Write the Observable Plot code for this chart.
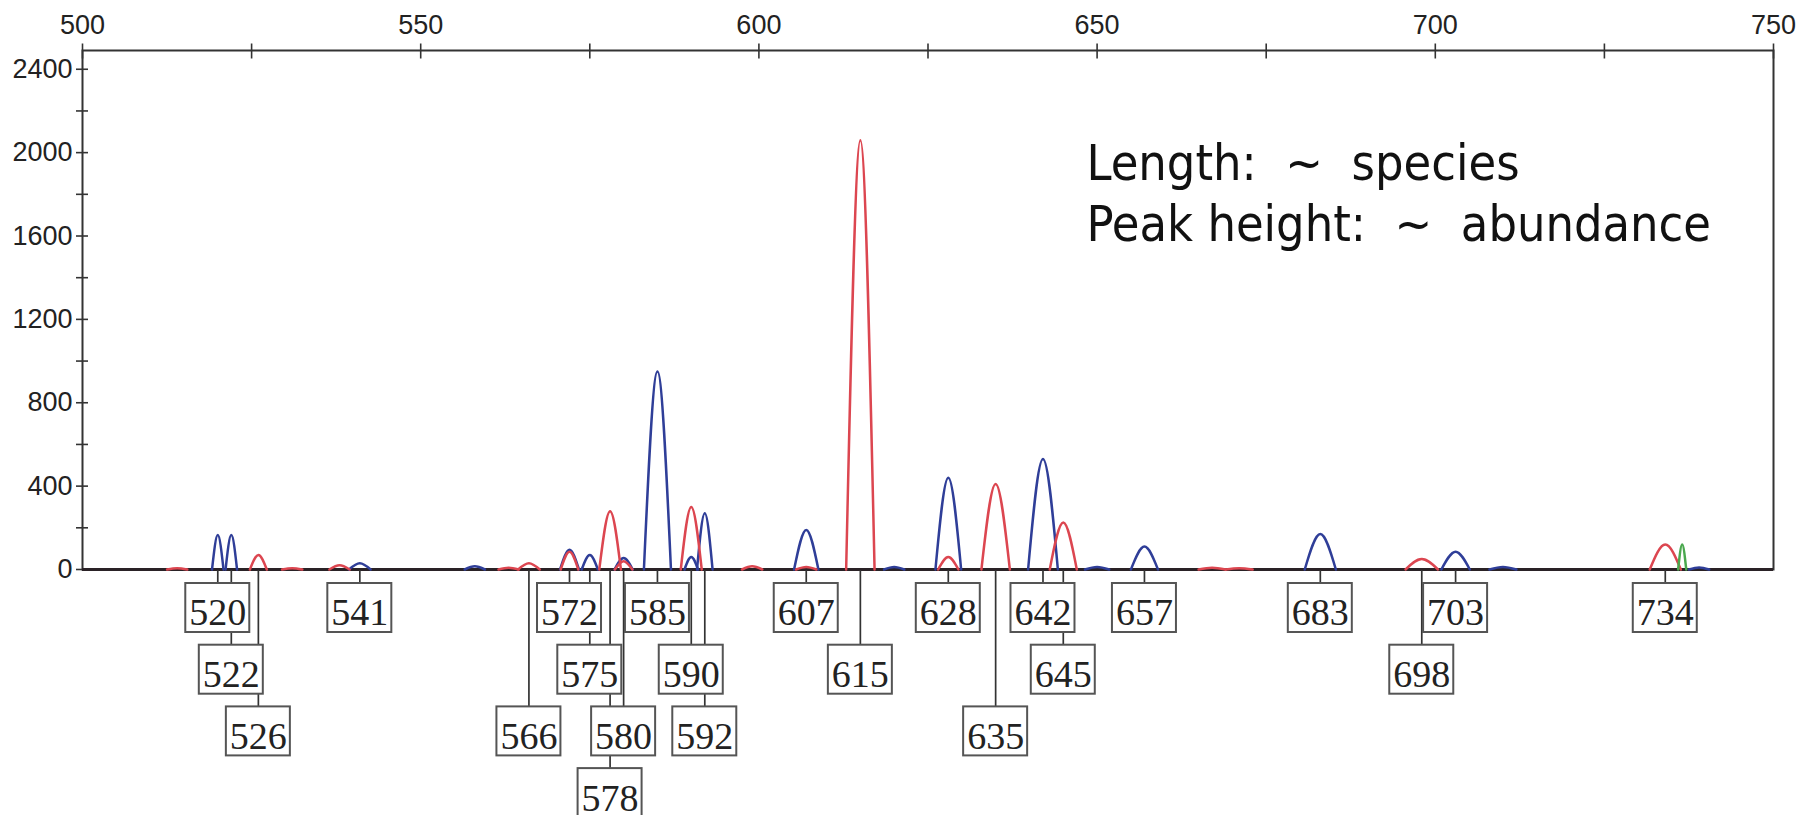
<!DOCTYPE html>
<html>
<head>
<meta charset="utf-8">
<script src="https://cdn.jsdelivr.net/npm/d3@7"></script>
<script src="https://cdn.jsdelivr.net/npm/@observablehq/plot@0.6"></script>
<style>
  html, body { margin: 0; padding: 0; background: #ffffff; overflow: hidden; }
  #chart svg { display: block; }
  g[aria-label="annotation"] text { font-stretch: condensed; }
</style>
</head>
<body>
<div id="chart"></div>
<script>
// Electropherogram peaks per dye: fragment size (bp), peak height (RFU), half base width (bp)
const blueSize   = [520, 522, 541, 558, 572, 575, 580, 585, 590, 592, 607, 620, 628, 642, 650, 657, 683, 703, 710, 739];
const blueHeight = [165, 165, 30, 15, 95, 70, 55, 950, 60, 270, 190, 12, 440, 530, 12, 110, 170, 85, 12, 10];
const blueSpread = [0.85, 0.85, 1.6, 1.5, 1.4, 1.2, 1.35, 2.0, 1.0, 1.15, 1.8, 1.5, 1.9, 2.2, 1.8, 2.0, 2.3, 2.1, 2.0, 1.5];

const redSize   = [514, 526, 531, 538, 563, 566, 572, 578, 580, 590, 599, 607, 615, 628, 635, 645, 667, 671, 698, 734];
const redHeight = [6, 70, 6, 20, 8, 30, 85, 280, 40, 300, 15, 12, 2060, 60, 410, 225, 8, 6, 50, 120];
const redSpread = [1.5, 1.25, 1.5, 1.5, 1.5, 1.6, 1.3, 1.6, 1.3, 1.55, 1.5, 1.5, 2.1, 1.5, 2.1, 2.0, 2.0, 2.0, 2.4, 2.3];

const greenSize   = [736.5];
const greenHeight = [120];
const greenSpread = [0.6];

// Called fragment sizes and the label tier each one is stacked in
const labelSize = [520, 522, 526, 541, 566, 572, 575, 578, 580, 585, 590, 592, 607, 615, 628, 635, 642, 645, 657, 683, 698, 703, 734];
const labelTier = [0, 1, 2, 0, 2, 0, 1, 3, 2, 0, 1, 2, 0, 1, 0, 2, 0, 1, 0, 0, 1, 0, 0];

// Axis ticks
const xTicks      = [500, 525, 550, 575, 600, 625, 650, 675, 700, 725, 750];
const xTickLabels = [500, 550, 600, 650, 700, 750];
const yTickLabels = [0, 400, 800, 1200, 1600, 2000, 2400];
const yMinorTicks = [200, 600, 1000, 1400, 1800, 2200];

const noteLines = ["Length:\u00a0\u00a0~\u00a0\u00a0species", "Peak height:\u00a0\u00a0~\u00a0\u00a0abundance"];

// ---- layout ----
const W = 1805, marginLeft = 82, marginRight = 32;
const bpDomain = [500, 750];
const pxPerBp = (W - marginLeft - marginRight) / (bpDomain[1] - bpDomain[0]);

// dye channels (names are not CSS colours, so the colour scale maps them)
const dyes = [
  {name: "blue dye",  color: "#2f3e98", size: blueSize,  height: blueHeight,  spread: blueSpread},
  {name: "red dye",   color: "#dc4650", size: redSize,   height: redHeight,   spread: redSpread},
  {name: "green dye", color: "#4aa84e", size: greenSize, height: greenHeight, spread: greenSpread}
];

const peaks = dyes.flatMap(d => d.size.map((s, i) => ({
  id: `${d.name}-${i}`, dye: d.name, size: s, height: d.height[i], spread: d.spread[i]
})));

// each peak: baseline → apex → baseline, smoothed by a monotone curve
const tracePoints = peaks.flatMap(p => [
  {id: p.id, dye: p.dye, bp: p.size - p.spread, rfu: 0},
  {id: p.id, dye: p.dye, bp: p.size,            rfu: p.height},
  {id: p.id, dye: p.dye, bp: p.size + p.spread, rfu: 0}
]);

const axisFont = "'Liberation Sans', Arial, Helvetica, sans-serif";

const trace = Plot.plot({
  width: W,
  height: 570,
  marginLeft, marginRight,
  marginTop: 50,
  marginBottom: 1,
  x: {domain: bpDomain},
  y: {domain: [0, 2490]},
  color: {type: "ordinal", domain: dyes.map(d => d.name), range: dyes.map(d => d.color)},
  style: {fontFamily: axisFont, fontSize: "27px", color: "#222", background: "transparent", overflow: "visible"},
  marks: [
    Plot.frame({stroke: "#333", strokeWidth: 2}),
    Plot.axisX({anchor: "top", ticks: xTicks, tickSize: 15, dy: 7.5, tickFormat: () => "", label: null, stroke: "#333", strokeWidth: 1.6}),
    Plot.axisX({anchor: "top", ticks: xTickLabels, tickSize: 0, tickPadding: 17, tickFormat: "d", label: null, fontSize: 27, fill: "#222"}),
    Plot.axisY({ticks: yMinorTicks, tickSize: 12, dx: 6, tickFormat: () => "", label: null, stroke: "#333", strokeWidth: 1.6}),
    Plot.axisY({ticks: yTickLabels, tickSize: 12, dx: 6, tickPadding: 4, tickFormat: "d", label: null, fontSize: 27, fill: "#222", stroke: "#333", strokeWidth: 1.6}),
    Plot.ruleY([0], {stroke: "#2a2226", strokeWidth: 2.8}),
    Plot.line(tracePoints, {x: "bp", y: "rfu", z: "id", stroke: "dye", strokeWidth: 2.5, curve: "monotone-x"}),
    Plot.text([noteLines.join("\n")], {
      frameAnchor: "top-left", dx: 1004, dy: 86.5,
      lineAnchor: "top", textAnchor: "start", lineHeight: 1.22,
      fontSize: 50, fontFamily: "'DejaVu Sans Condensed', 'DejaVu Sans', sans-serif",
      fill: "#111", ariaLabel: "annotation"
    })
  ]
});

// ---- size-call labels below the trace ----
const tierStep = 61.7, boxHeight = 49, boxGap = 13, boxWidth = 64;
const boxHalf = boxWidth / 2 / pxPerBp;
const gapT = boxGap / tierStep, boxT = boxHeight / tierStep, textT = (boxGap + 29.8) / tierStep;

const labels = labelSize.map((s, i) => ({size: s, tier: labelTier[i]}));

const sizeCalls = Plot.plot({
  width: W,
  height: 247,
  marginLeft, marginRight,
  marginTop: 0, marginBottom: 0,
  x: {domain: bpDomain, axis: null},
  y: {domain: [0, 4], range: [0, 4 * tierStep], axis: null},
  style: {background: "transparent", overflow: "visible"},
  marks: [
    Plot.ruleX(labels, {x: "size", y1: 0, y2: d => d.tier + gapT, stroke: "#333", strokeWidth: 1.7}),
    Plot.rect(labels, {
      x1: d => d.size - boxHalf, x2: d => d.size + boxHalf,
      y1: d => d.tier + gapT, y2: d => d.tier + gapT + boxT,
      fill: "#ffffff", stroke: "#555", strokeWidth: 2
    }),
    Plot.text(labels, {
      x: "size", y: d => d.tier + textT, text: d => String(d.size),
      fontFamily: "'Liberation Serif', 'Times New Roman', serif", fontSize: 38,
      fill: "#222", ariaLabel: "size label"
    })
  ]
});

// narrow the serif numerals like the instrument's label face
for (const t of sizeCalls.querySelectorAll('g[aria-label="size label"] text')) {
  const tr = t.getAttribute("transform");
  if (tr) {
    t.setAttribute("transform", tr + " scale(0.84,1)");
  } else {
    const x = +(t.getAttribute("x") || 0), y = +(t.getAttribute("y") || 0);
    t.removeAttribute("x"); t.removeAttribute("y");
    t.setAttribute("transform", `translate(${x},${y}) scale(0.84,1)`);
  }
}

const host = document.getElementById("chart");
host.appendChild(trace);
host.appendChild(sizeCalls);
</script>
</body>
</html>
